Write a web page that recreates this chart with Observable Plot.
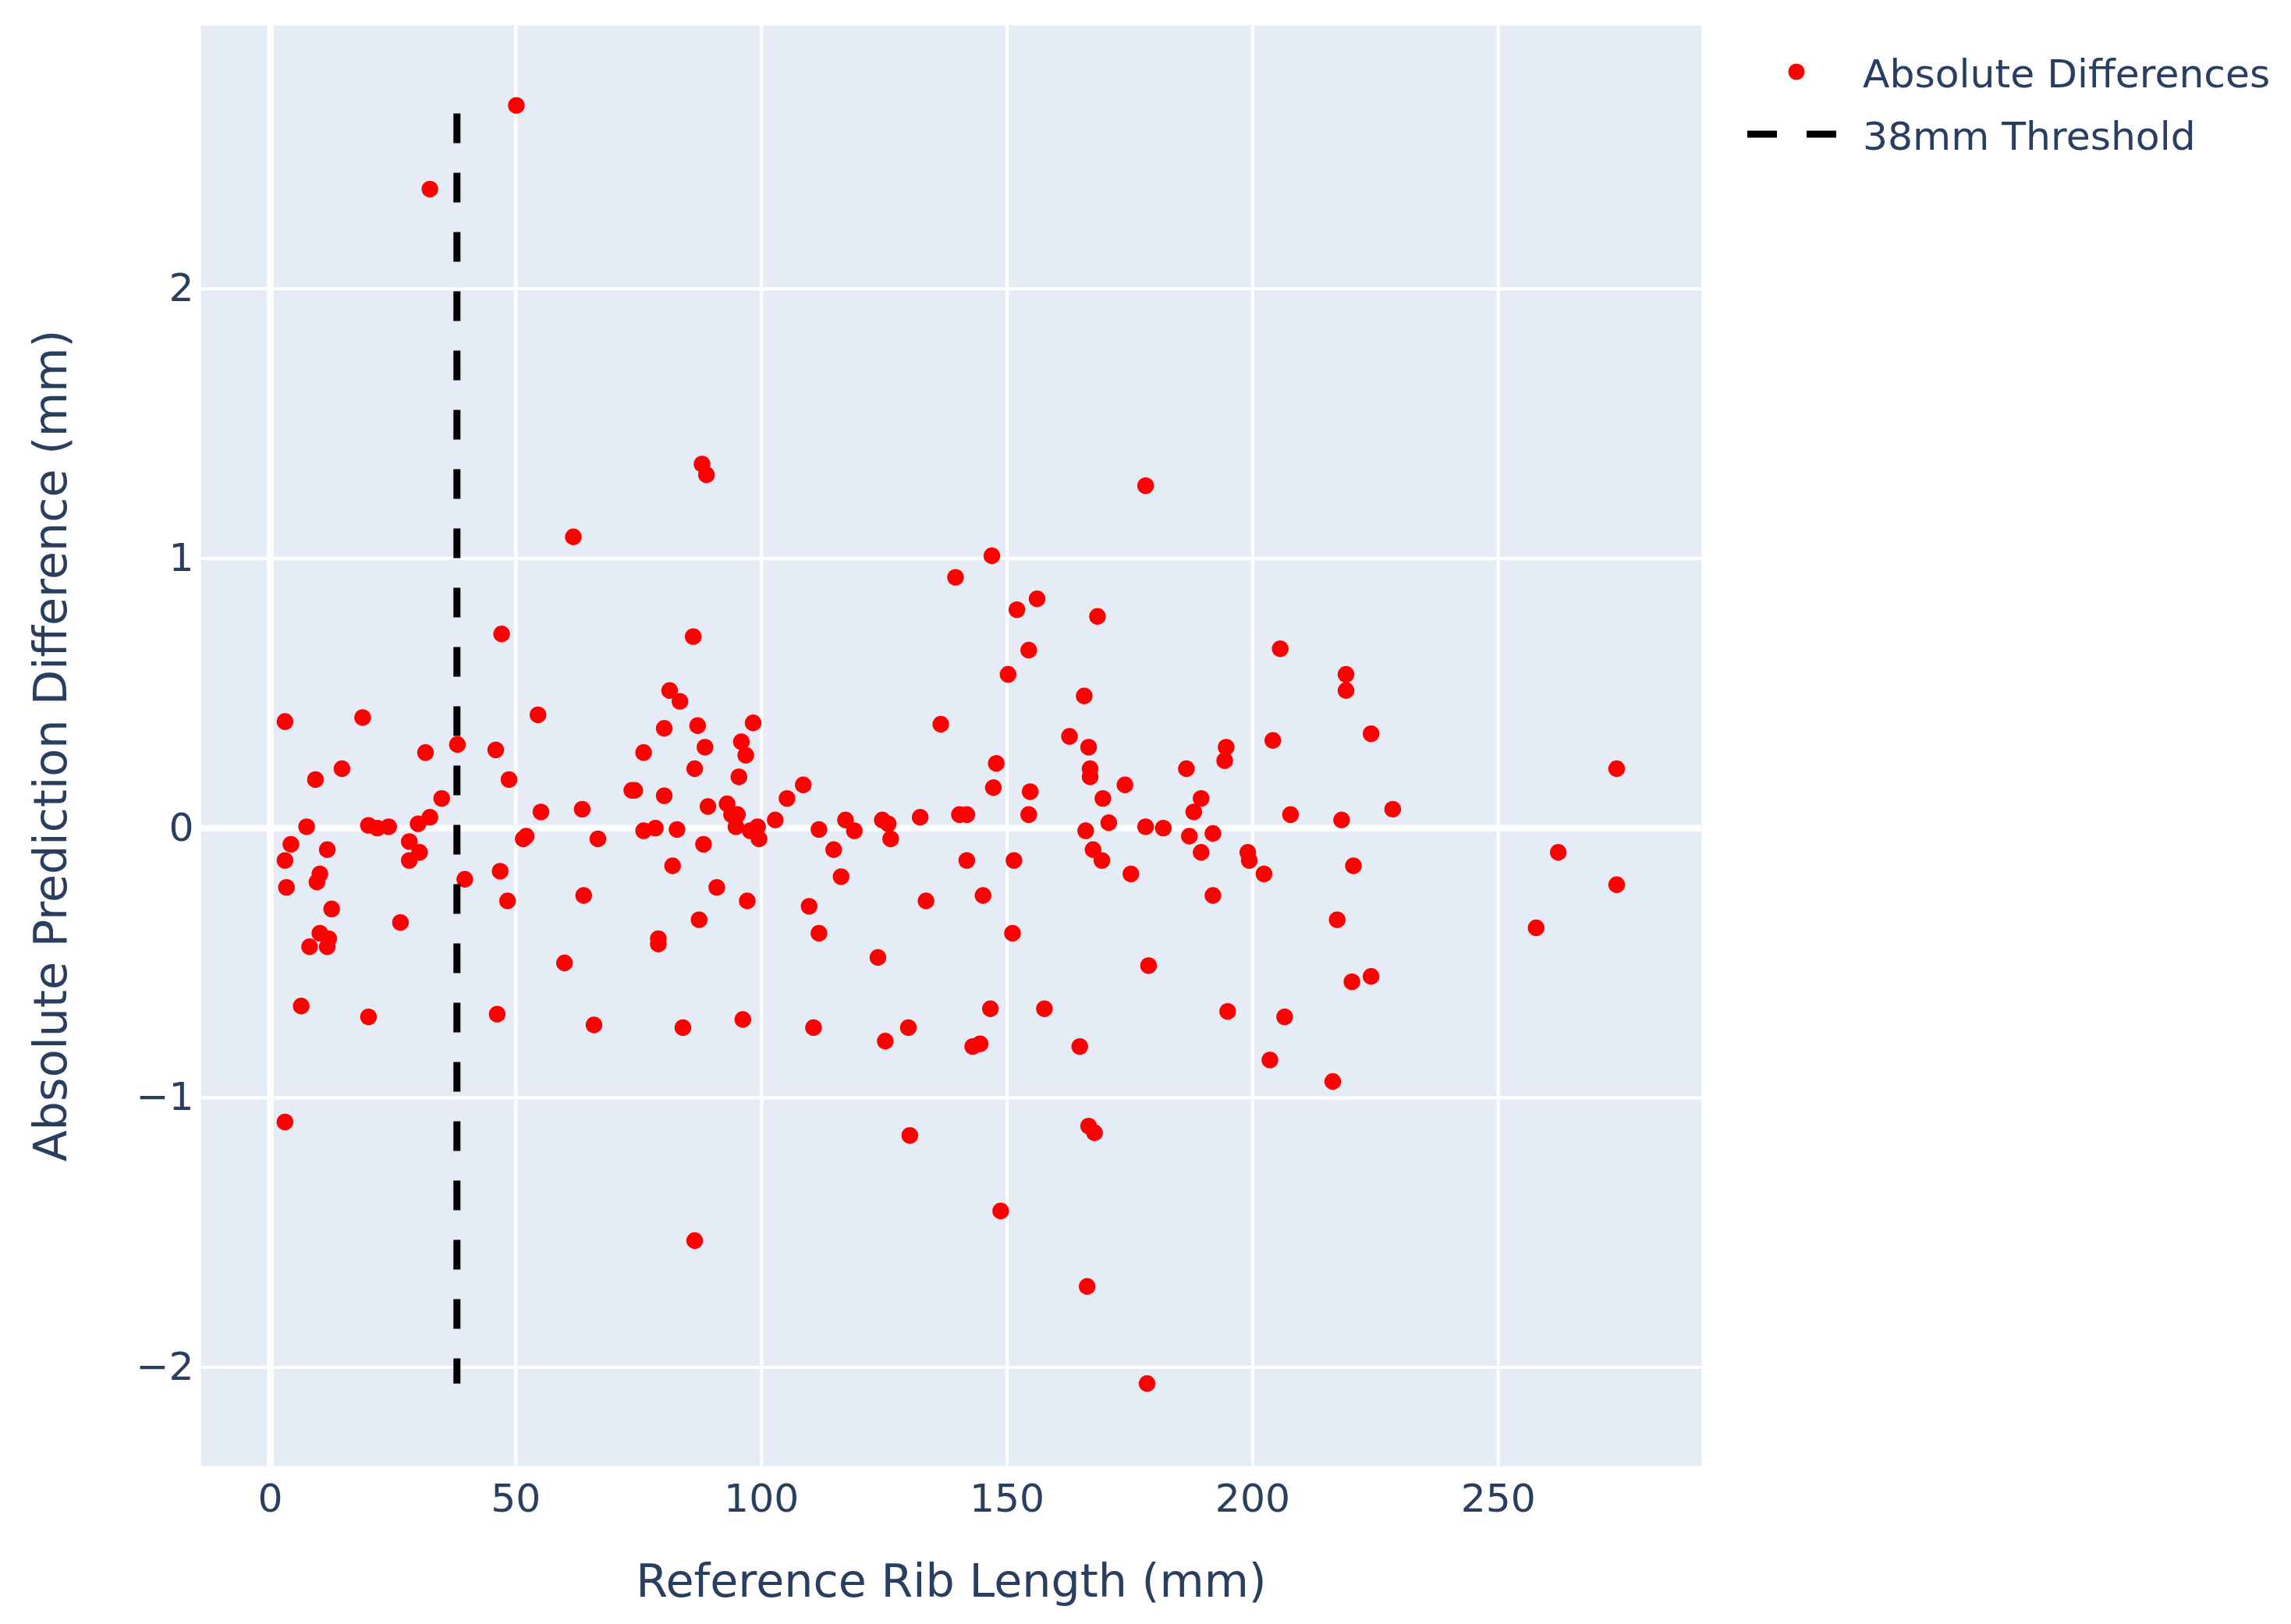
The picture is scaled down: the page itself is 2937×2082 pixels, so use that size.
<!DOCTYPE html>
<html>
<head>
<meta charset="utf-8">
<script src="https://cdn.jsdelivr.net/npm/d3@7"></script>
<script src="https://cdn.jsdelivr.net/npm/@observablehq/plot@0.6"></script>
<style>
  html, body { margin: 0; padding: 0; background: white; }
  #wrap { position: relative; width: 2937px; height: 2082px; }
  #legend { position: absolute; left: 2200px; top: 40px; }
  svg text { font-family: "DejaVu Sans", sans-serif; }
</style>
</head>
<body>
<div id="wrap"></div>
<script>
// Reference rib length (mm)
const ribLength = [
  3.0, 3.0, 3.3, 4.2, 3.0, 6.3, 7.4, 8.0, 9.2, 9.5,
  10.1, 10.1, 11.6, 11.6, 11.9, 12.5, 14.6, 18.8, 20.0, 20.0,
  21.8, 24.1, 26.5, 28.3, 28.3, 30.1, 30.4, 31.6, 32.5, 32.5,
  34.9, 38.1, 39.6, 45.9, 46.2, 46.8, 47.1, 48.3, 48.6, 50.1,
  51.5, 52.1, 54.5, 55.1, 59.9, 61.7, 63.5, 63.8, 65.9, 66.7,
  73.6, 74.2, 76.0, 76.0, 78.4, 79.0, 79.0, 80.2, 80.2, 81.3,
  81.9, 82.8, 83.4, 84.0, 86.1, 86.4, 86.4, 87.0, 87.3, 87.9,
  88.2, 88.5, 88.8, 89.1, 90.9, 93.0, 93.9, 94.8, 95.1, 95.4,
  95.9, 96.2, 96.8, 97.1, 97.7, 98.3, 99.2, 99.5, 102.8, 105.2,
  108.5, 109.7, 110.6, 111.7, 111.7, 114.7, 116.2, 117.1, 118.9, 123.7,
  124.6, 125.2, 125.8, 126.3, 129.9, 130.2, 132.3, 133.5, 136.5, 139.5,
  140.3, 141.8, 141.8, 143.0, 144.5, 145.1, 146.6, 146.9, 147.2, 147.8,
  148.7, 150.2, 151.1, 151.4, 152.0, 154.4, 154.4, 154.7, 156.1, 157.6,
  162.7, 164.8, 165.7, 166.0, 166.3, 166.6, 166.6, 166.9, 166.9, 167.5,
  167.8, 168.4, 169.3, 169.5, 170.7, 174.0, 175.2, 178.2, 178.2, 178.5,
  178.8, 181.8, 186.5, 187.1, 188.0, 189.5, 189.5, 191.9, 191.9, 194.3,
  194.6, 194.9, 199.0, 199.3, 202.3, 203.5, 204.1, 205.6, 206.5, 207.7,
  216.3, 217.2, 218.1, 219.0, 219.0, 220.2, 220.5, 224.1, 224.1, 228.5,
  257.7, 262.2, 274.1, 274.1
];
// Prediction difference (mm)
const difference = [
  0.395, -0.12, -0.22, -0.06, -1.09, -0.66, 0.005, -0.44, 0.18, -0.20,
  -0.17, -0.39, -0.08, -0.44, -0.41, -0.30, 0.22, 0.41, -0.70, 0.01,
  0.0, 0.005, -0.35, -0.05, -0.12, 0.016, -0.09, 0.28, 0.04, 2.37,
  0.11, 0.31, -0.19, 0.29, -0.69, -0.16, 0.72, -0.27, 0.18, 2.68,
  -0.04, -0.03, 0.42, 0.06, -0.50, 1.08, 0.07, -0.25, -0.73, -0.04,
  0.14, 0.14, 0.28, -0.01, 0.0, -0.41, -0.43, 0.37, 0.12, 0.51,
  -0.14, -0.005, 0.47, -0.74, 0.71, 0.22, -1.53, 0.38, -0.34, 1.35,
  -0.06, 0.30, 1.31, 0.08, -0.22, 0.09, 0.05, 0.005, 0.05, 0.19,
  0.32, -0.71, 0.27, -0.27, -0.01, 0.39, 0.005, -0.04, 0.03, 0.11,
  0.16, -0.29, -0.74, -0.005, -0.39, -0.08, -0.18, 0.03, -0.01, -0.48,
  0.03, -0.79, 0.016, -0.04, -0.74, -1.14, 0.04, -0.27, 0.385, 0.93,
  0.05, 0.05, -0.12, -0.81, -0.80, -0.25, -0.67, 1.01, 0.15, 0.24,
  -1.42, 0.57, -0.39, -0.12, 0.81, 0.66, 0.05, 0.135, 0.85, -0.67,
  0.34, -0.81, 0.49, -0.01, -1.70, 0.30, -1.105, 0.22, 0.19, -0.08,
  -1.13, 0.785, -0.12, 0.11, 0.02, 0.16, -0.17, 1.27, 0.005, -2.06,
  -0.51, 0.0, 0.22, -0.03, 0.06, 0.11, -0.09, -0.02, -0.25, 0.25,
  0.30, -0.68, -0.09, -0.12, -0.17, -0.86, 0.325, 0.665, -0.70, 0.05,
  -0.94, -0.34, 0.03, 0.57, 0.51, -0.57, -0.14, 0.35, -0.55, 0.07,
  -0.37, -0.09, 0.22, -0.21
];
// 38 mm threshold line (x position and vertical extent, drawn top to bottom)
const thresholdX = [38, 38];
const thresholdY = [2.65, -2.06];

const xTicks = [0, 50, 100, 150, 200, 250];
const yTicks = [-2, -1, 0, 1, 2];
const xLabel = "Reference Rib Length (mm)";
const yLabel = "Absolute Prediction Difference (mm)";
const legendLabels = ["Absolute Differences", "38mm Threshold"];

const points = ribLength.map((x, i) => ({x, y: difference[i]}));
const threshold = thresholdX.map((x, i) => ({x, y: thresholdY[i]}));

const textColor = "#2a3f5f";

const chart = Plot.plot({
  width: 2937,
  height: 2082,
  marginLeft: 257,
  marginRight: 756,
  marginTop: 32,
  marginBottom: 203,
  style: {fontFamily: "DejaVu Sans", fontSize: "50.4px", color: textColor, background: "white"},
  x: {domain: [-14.13, 291.4]},
  y: {domain: [-2.366, 2.977]},
  marks: [
    Plot.frame({fill: "#E5ECF6", stroke: "none"}),
    Plot.gridX(xTicks.filter(d => d !== 0), {stroke: "white", strokeOpacity: 1, strokeWidth: 4.2}),
    Plot.gridY(yTicks.filter(d => d !== 0), {stroke: "white", strokeOpacity: 1, strokeWidth: 4.2}),
    Plot.ruleX([0], {stroke: "white", strokeWidth: 8.4}),
    Plot.ruleY([0], {stroke: "white", strokeWidth: 8.4}),
    Plot.axisX(xTicks, {tickSize: 0, tickPadding: 23, label: null, fill: textColor, fontSize: 50.4, tickFormat: d3.format("d")}),
    Plot.axisY(yTicks, {tickSize: 0, tickPadding: 9, label: null, fill: textColor, fontSize: 50.4, tickFormat: d3.format("d")}),
    Plot.dot(points, {x: "x", y: "y", r: 10.7, fill: "#FF0000", stroke: "none"}),
    Plot.line(threshold, {x: "x", y: "y", stroke: "black", strokeWidth: 9, strokeDasharray: "38,38", strokeLinecap: "butt"}),
    Plot.text([xLabel], {text: d => d, frameAnchor: "bottom", dy: 149, textAnchor: "middle", lineAnchor: "middle", fontSize: 58.7, fill: textColor}),
    Plot.text([yLabel], {text: d => d, frameAnchor: "left", dx: -191, rotate: -90, textAnchor: "middle", lineAnchor: "middle", fontSize: 58.7, fill: textColor})
  ]
});

const wrap = document.getElementById("wrap");
wrap.appendChild(chart);

// Legend (to the right of the plot)
const legend = document.createElement("div");
legend.id = "legend";
legend.innerHTML = `
<svg width="737" height="200" xmlns="http://www.w3.org/2000/svg">
  <circle cx="103" cy="52" r="10.5" fill="#FF0000"></circle>
  <text x="188" y="72" font-size="50.4" fill="${textColor}" font-family="DejaVu Sans">${legendLabels[0]}</text>
  <line x1="40" y1="132" x2="154" y2="132" stroke="black" stroke-width="9" stroke-dasharray="38,38"></line>
  <text x="188" y="152" font-size="50.4" fill="${textColor}" font-family="DejaVu Sans">${legendLabels[1]}</text>
</svg>`;
wrap.appendChild(legend);
</script>
</body>
</html>
